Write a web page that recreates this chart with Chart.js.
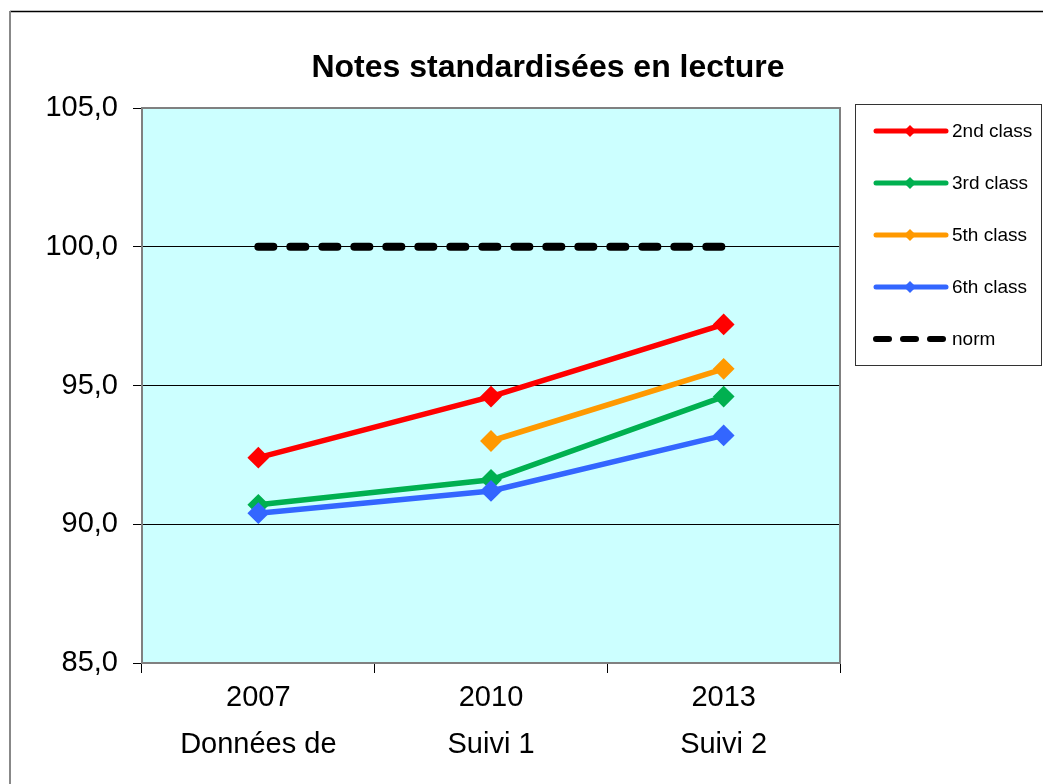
<!DOCTYPE html>
<html lang="fr">
<head>
    <meta charset="UTF-8">
    <title>Notes standardisées en lecture</title>
    <script src="https://cdn.jsdelivr.net/npm/chart.js"></script>
    <style>
        body {
            margin: 0;
            background: #ffffff;
        }

        .chart-box {
            position: relative;
            width: 1043px;
            height: 784px;
        }
    </style>
</head>
<body>
    <div class="chart-box">
        <canvas id="reading-chart"></canvas>
    </div>

    <script>
        // Data
        const categories = [['2007', 'Données de'], ['2010', 'Suivi 1'], ['2013', 'Suivi 2']];
        const seriesNames = ['2nd class', '3rd class', '5th class', '6th class', 'norm'];
        const class2 = [92.4, 94.6, 97.2];
        const class3 = [90.7, 91.6, 94.6];
        const class5 = [null, 93.0, 95.6];
        const class6 = [90.4, 91.2, 93.2];
        const norm = [100, 100, 100];
        const yTicks = [85, 90, 95, 100, 105];

        const colors = ['#ff0000', '#00b050', '#ff9900', '#3366ff', '#000000'];

        function classSet(i, values) {
            return {
                label: seriesNames[i],
                data: values,
                borderColor: colors[i],
                backgroundColor: colors[i],
                borderWidth: 5.5,
                pointStyle: 'rectRot',
                pointRadius: 9.5,
                pointHoverRadius: 9.5,
                pointBorderWidth: 2,
                pointBackgroundColor: colors[i],
                pointBorderColor: colors[i],
                tension: 0,
                order: 10 - i
            };
        }

        // Plot background, plot frame, title, legend and outer frame
        const decorations = {
            id: 'decorations',
            beforeDraw(chart) {
                const { ctx, chartArea: a } = chart;
                ctx.save();
                ctx.fillStyle = '#ccffff';
                ctx.fillRect(a.left, a.top, a.right - a.left, a.bottom - a.top);
                ctx.restore();
            },
            beforeDatasetsDraw(chart) {
                const { ctx, chartArea: a } = chart;
                ctx.save();
                ctx.strokeStyle = '#808080';
                ctx.lineWidth = 2;
                ctx.strokeRect(a.left, a.top, a.right - a.left, a.bottom - a.top);
                ctx.restore();
            },
            afterDraw(chart) {
                const ctx = chart.ctx;
                ctx.save();

                // outer frame
                ctx.strokeStyle = '#000000';
                ctx.lineWidth = 1.5;
                ctx.beginPath();
                ctx.moveTo(10, 11.5);
                ctx.lineTo(1043, 11.5);
                ctx.stroke();
                ctx.strokeStyle = '#888888';
                ctx.lineWidth = 2;
                ctx.beginPath();
                ctx.moveTo(10, 11);
                ctx.lineTo(10, 784);
                ctx.stroke();

                // title
                ctx.fillStyle = '#000000';
                ctx.font = 'bold 32px "Liberation Sans", Arial, sans-serif';
                ctx.textAlign = 'center';
                ctx.textBaseline = 'middle';
                ctx.fillText('Notes standardisées en lecture', 548, 68);

                // legend
                ctx.strokeStyle = '#333333';
                ctx.lineWidth = 1;
                ctx.strokeRect(855.5, 104.5, 186, 261);
                ctx.font = '19px "Liberation Sans", Arial, sans-serif';
                ctx.textAlign = 'left';
                chart.data.datasets.forEach((ds, i) => {
                    const y = 131 + i * 52;
                    ctx.strokeStyle = ds.borderColor;
                    ctx.lineWidth = ds.label === 'norm' ? 6 : 5;
                    ctx.lineCap = 'round';
                    ctx.setLineDash(ds.label === 'norm' ? [13, 14] : []);
                    ctx.beginPath();
                    ctx.moveTo(876, y);
                    ctx.lineTo(946, y);
                    ctx.stroke();
                    ctx.setLineDash([]);
                    if (ds.label !== 'norm') {
                        ctx.fillStyle = ds.borderColor;
                        ctx.beginPath();
                        ctx.moveTo(910, y - 6);
                        ctx.lineTo(916, y);
                        ctx.lineTo(910, y + 6);
                        ctx.lineTo(904, y);
                        ctx.closePath();
                        ctx.fill();
                    }
                    ctx.fillStyle = '#000000';
                    ctx.fillText(ds.label, 952, y + 1);
                });
                ctx.restore();
            }
        };

        const ctx = document.getElementById('reading-chart').getContext('2d');
        const readingChart = new Chart(ctx, {
            type: 'line',
            data: {
                labels: categories,
                datasets: [
                    classSet(0, class2),
                    classSet(1, class3),
                    classSet(2, class5),
                    classSet(3, class6),
                    {
                        label: seriesNames[4],
                        data: norm,
                        borderColor: colors[4],
                        backgroundColor: colors[4],
                        borderWidth: 8,
                        borderDash: [15, 17],
                        borderCapStyle: 'round',
                        pointRadius: 0,
                        pointHoverRadius: 0,
                        order: 20
                    }
                ]
            },
            options: {
                responsive: true,
                maintainAspectRatio: false,
                animation: false,
                events: [],
                layout: {
                    padding: { top: 108, right: 203, left: 0, bottom: 0 }
                },
                scales: {
                    x: {
                        offset: true,
                        afterFit(scale) { scale.height = 121; },
                        grid: {
                            offset: true,
                            drawOnChartArea: false,
                            drawTicks: true,
                            tickLength: 10,
                            tickColor: '#000000'
                        },
                        border: { display: false },
                        ticks: {
                            color: '#000000',
                            padding: 2,
                            maxRotation: 0,
                            font: { family: '"Liberation Sans", Arial, sans-serif', size: 29, lineHeight: 1.6 }
                        }
                    },
                    y: {
                        min: yTicks[0],
                        max: yTicks[yTicks.length - 1],
                        afterFit(scale) { scale.width = 142; },
                        afterBuildTicks(scale) {
                            scale.ticks = yTicks.map(v => ({ value: v }));
                        },
                        grid: {
                            color: '#000000',
                            lineWidth: 1,
                            tickLength: 9,
                            tickColor: '#000000'
                        },
                        border: { display: false },
                        ticks: {
                            color: '#000000',
                            padding: 15,
                            font: { family: '"Liberation Sans", Arial, sans-serif', size: 29 },
                            callback: v => v.toFixed(1).replace('.', ',')
                        }
                    }
                },
                plugins: {
                    legend: { display: false },
                    title: { display: false },
                    tooltip: { enabled: false }
                }
            },
            plugins: [decorations]
        });
    </script>
</body>
</html>
